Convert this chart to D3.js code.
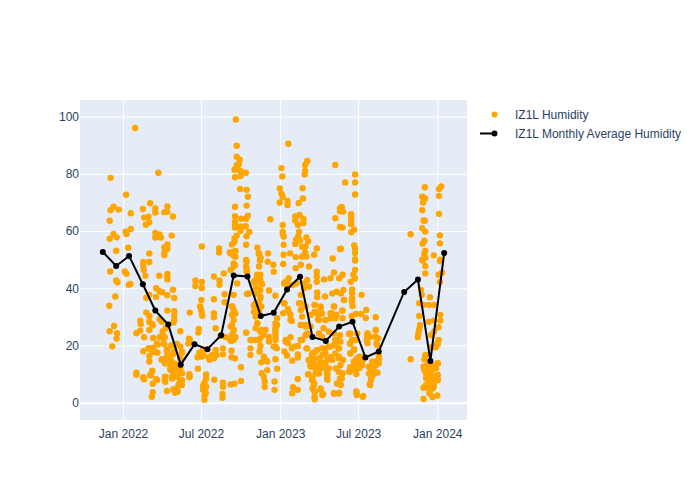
<!DOCTYPE html>
<html><head><meta charset="utf-8">
<script src="https://cdn.jsdelivr.net/npm/d3@7"></script>
<style>html,body{margin:0;padding:0;background:#fff}svg{display:block}text{font-family:"Liberation Sans",Arial,sans-serif}</style>
</head><body><svg id="c" width="700" height="500"></svg>
<script>
const baseDate = new Date(2022,0,1);
const seriesNames = ["IZ1L Humidity","IZ1L Monthly Average Humidity"];
const xTickDates = ["2022-01-01","2022-07-01","2023-01-01","2023-07-01","2024-01-01"];
const xTickLabels = ["Jan 2022","Jul 2022","Jan 2023","Jul 2023","Jan 2024"];
const yTicks = [0,20,40,60,80,100];
const monthlyDays = [-47,-16,14,46,75,105,134,166,196,228,257,289,320,350,381,411,440,471,502,533,563,594,653,685,714,746];
const monthlyHumidity = [52.7,47.8,51.3,41.4,32.2,27.3,13.3,20.4,18.7,23.6,44.5,44.1,30.3,31.4,39.6,44,23,21.6,26.6,28.3,15.8,17.9,38.7,43.1,14.6,52.3];
// [days after 1 Jan 2022, humidity %]
const humidityReadings = [
[28,96],[-29,78.6],[82,80.4],[7,72.7],[-22,68.5],[-29,67.3],[-10,67.5],[18,66.2],[-31,63.6],[46,67.7],[63,69.7],[75,67.9],[75,66.5],[103,68.6],[96,66.6],[103,66.7],[116,65.1],[49,64.7],[59,65],[61,63.1],[53,62.2],[18,60.7],[6,59.8],[8,59],[-22,59],[-31,57.3],[-15,57.8],[75,59.3],[85,58.8],[75,57.7],[88,57.7],[82,58.1],[113,58.4],[12,54.2],[-16,53.1],[61,52.2],[103,55.3],[96,54.3],[103,53.8],[96,52.4],[96,51.6],[183,54.6],
[47,49.2],[61,49.2],[47,47.8],[48,46.4],[52,44.4],[-30,45.9],[4,45.9],[8,45.1],[-16,42.7],[-13,42.1],[13,41.2],[17,41.5],[84,44.4],[103,45],[103,44],[103,43.1],[168,42.7],[168,40.8],[183,42.2],[183,40.1],[77,40],[85,39],[91,38.6],[116,39.5],[103,37.6],[77,37],[54,36.7],[61,37.7],[119,36.6],[-18,37.1],[-32,33.9],[182,35.9],[179,33.6],[181,32.7],[183,31.5],[184,30.4],[54,31.5],[61,30.3],[103,32.2],[119,32],[119,30.3],[119,28.9],[117,28],[155,31.5],[40,28.7],[41,27.5],[61,28.3],[67,27.5],[85,29.2],[90,28.3],[69,27],[61,25.4],[-21,26.8],[-31,25],[-14,24.3],[-15,22.4],[-25,19.7],[40,25.2],[31,24.3],[49,22.9],[70,22.6],[85,22.9],[92,24.9],[99,26],[97,22.9],[133,25],[176,25.8],[175,24.5],[153,22.4],[153,21.1],[80,20.3],[96,20.4],[112,20],[125,20.5],[133,19.6],[102,18.2],[61,19],[69,19.1],[47,18],[80,17.5],[68,17.7],[61,16.3],[103,16.7],[116,17],[137,17.5],[96,15.2],[90,15.2],[110,15.2],[61,14.4],[133,15.5],[177,17.5],[186,18.4],[173,15.9],[183,16.1],[199,15.9],[201,15],[110,13.6],[117,12.6],[125,13.2],[133,12],[110,11.5],[117,10.3],[127,10.9],[137,10.3],[113,9.1],[125,9.1],[133,8],[174,11.9],[154,10],[154,8.9],[68,11.2],[64,9.6],[31,10.5],[31,9.8],[47,8.9],[49,8.2],[77,8.2],[69,6.6],[97,8.9],[97,7.7],[193,9.9],[193,8.5],[189,7],[186,5.9],[193,5.6],[186,4.5],[192,3.5],[189,2.4],[189,1],[130,6.6],[137,6.2],[125,5],[117,4.7],[127,3.9],[121,3.5],[102,4.1],[69,3.7],[67,2.1],
[94,22.5],[87,23],[79,20.7],[94,20.7],[67,19],[59,19],[75,17.8],[90,14.9],[98,13.7],[110,16],[118,13.7],[121,11.4],[110,12],[125,9.6],[114,8.5],[137,7.9],[129,6.1],[118,4.4],[124,3.8],[137,17.8],[118,17.8],[102,18.4],[102,16],[98,9.1],[98,7.3],[79,7.9],[67,10.8],[63,9.6],[48,8.5],[155,9.3],[155,22.1],[152,20.7],[180,16.6],[187,16.6],[189,5.6],[191,3.2],
[262,99],[264,89.8],[384,90.5],[264,86],[271,84.9],[269,83.5],[264,83],[259,81.4],[267,81.7],[273,80.9],[285,80.4],[260,78.8],[273,79.2],[223,53.9],[223,52.5],[368,82],[370,79.1],[428,84.5],[423,83.1],[423,81],[422,79.8],[493,83.1],[272,74.7],[287,74.4],[290,72],[260,68.5],[287,68.9],[364,74.9],[368,73],[371,71.9],[364,70],[382,70.5],[382,69.1],[408,69.8],[418,71.4],[417,75],[260,65.2],[274,64.3],[286,64.3],[290,65.4],[342,64.1],[260,63.2],[260,62.1],[260,61.2],[273,61.6],[285,61.7],[273,60.1],[293,59.7],[287,58.2],[264,58.4],[259,57.4],[259,56.3],[253,55.3],[286,55.2],[400,65.1],[400,63.7],[410,65.6],[419,64.2],[419,62.8],[406,62.2],[409,59.8],[371,62.1],[371,59.8],[371,59],[373,58.1],[493,64.5],[504,68],[504,66.9],[504,61.4],[407,58.1],[402,57],[411,56.7],[400,55.5],[426,57.8],[430,56.4],[416,54.5],[424,54.6],[450,53.9],[504,53.7],[373,55.2],[312,54.2],[248,52.5],[261,53],[257,51.4],[315,52.1],[319,50.8],[337,52.2],[373,51.7],[388,52.2],[401,50.9],[416,51.1],[423,52.5],[426,51.1],[444,51.7],[487,50.4],
[257,48.7],[257,47.6],[211,44.1],[234,45.2],[224,42.7],[224,41.2],[250,46.4],[287,49.3],[287,47],[287,45.8],[318,49.7],[336,49.3],[349,48.2],[372,48.5],[350,45.8],[312,44.7],[319,44.7],[308,42.9],[265,41.7],[323,41.5],[308,41.2],[315,39.6],[339,39.2],[308,38.2],[288,38],[236,37.9],[257,37.7],[354,37.4],[211,36.2],[236,35.1],[413,48.2],[401,47],[432,47.6],[450,45.8],[450,44.1],[450,42.3],[490,45.5],[467,43.1],[482,43.5],[502,43.5],[385,43.5],[374,41.7],[389,41.2],[403,41.7],[428,42.9],[432,40.6],[420,40],[413,37.7],[451,38.5],[451,36.9],[469,37.1],[486,38.2],[496,38.8],[409,34.8],[413,32.4],[416,30.1],[375,34.8],[383,32.7],[372,31.3],[389,30.7],[392,28.6],[445,34.2],[459,33.6],[445,31.8],[459,31.3],[490,33.6],[482,31.3],[471,28.9],[453,29.2],[436,30.7],[496,30.7],[308,34.8],[308,32.4],[308,30.1],[312,27.8],[319,37.1],[321,33.6],[358,29.5],[358,27.2],[253,33.6],[257,32.4],[253,30.7],[257,28.9],[253,27.2],[257,25.4],[253,23.7],[257,21.9],[251,21.6],[211,31.3],[211,29.9],[215,26],[226,23.3],[286,24.5],[308,26],[319,24.9],[331,25.4],[327,23.7],[339,21.4],[296,21.9],[308,21.9],[319,22.5],[354,26],[354,24.3],[354,21.9],[319,19.8],[354,19.6],[357,19],[413,27.2],[424,26.6],[436,26.6],[428,24],[389,22.9],[378,21.9],[383,20.8],[413,21.9],[406,19.8],[392,19],[428,19],[375,17.9],[381,16.5],[406,16.9],[406,15.8],[393,14.7],[232,19],[232,16.9],[252,18.2],[252,15.9],[260,15.5],[215,18.4],[207,16.7],[217,16.7],[211,15.5],[296,19],[317,17.9],[296,16.7],[327,16.1],[331,14.9],[321,14.1],[335,14.4],[354,15.2],[274,12.4],[335,11.4],[358,11.9],[322,10.3],[327,9.1],[329,7.4],[329,5.6],[352,7.4],[352,4.5],[212,8],[274,7.6],[232,7],[232,5.6],[250,6.4],[259,6.6],[231,3.1],[231,1.7],[406,8.3],[395,5.4],[393,3.3],[406,4.5],[430,9.9],[440,17.3],[451,18.4],[463,16.7],[471,19],[482,19.6],[494,20.8],[502,19],[436,15],[444,15.5],[436,12.6],[447,12],[463,13.8],[475,15],[486,15],[502,16.1],[494,12],[471,12],[475,9.7],[475,8],[440,8.6],[444,6.8],[440,5],[445,3.9],[445,1.2],[459,4.5],[463,2.7],[490,3.3],[502,3.5],
[257,52.8],[250,52.2],[261,51],[260,48.1],[286,49.9],[286,47.6],[288,45.8],[316,52.2],[319,50.5],[316,47.6],[312,44.6],[319,42.9],[304,42.3],[308,39.4],[319,39.4],[292,38.2],[319,36.5],[316,34.7],[304,34.1],[304,31.8],[316,31.8],[312,27.7],[322,25.4],[300,21.9],[316,21.9],[339,23],[354,27.7],[354,25.4],[354,23],[350,19.6],[393,41.1],[378,42.3],[382,41.1],[374,34.7],[385,31.8],[389,28.9],[413,34.7],[424,33.6],[420,41.7],[413,27.1],[428,27.1],[424,23.6],[413,21.9],[397,19.6],[378,21.3],[254,33.6],[254,30.7],[261,31.2],[250,26.6],[257,25.4],[246,22.5],[238,23],[261,23],[286,24.5],
[431,14.9],[439,16.6],[447,17.8],[443,13.7],[455,15.5],[462,19],[470,17.2],[478,19.6],[490,20.1],[497,21.9],[501,19],[493,17.2],[482,16],[470,13.7],[459,12],[451,13.1],[435,13.1],[478,12],[474,10.2],[474,8.5],[501,15.5],[505,13.1],[501,10.8],[504,8.5],[497,6.7],[459,14.3],[447,10.2],[455,10.2],[431,10],[439,7.9],[443,6.1],[459,5],[445,3.8],[445,2.1],[465,3],[490,3.2],[501,3.2],[542,3.5],[557,2.1],[544,15.5],[552,16],[536,14.3],[548,13.1],[528,12],[527,10.8],[540,11.4],[571,12.6],[579,14.3],[587,13.1],[594,16.6],[571,10.2],[577,8.8],[573,6.5],[579,11.4],[566,21.9],[567,23.6],[587,25.4],[587,23],[589,20.7],[527,20.7],[536,18.4],[528,17.2],[528,24.2],[544,24.2],[445,34.2],[459,33],[451,31.2],[462,31.2],[486,31.2],[483,29.5],[493,29.5],[470,28.9],[455,28.9],[424,27.2],[428,24.2],[416,21.9],[426,19],[466,26],[455,24.2],[478,24.8],[462,23],[490,24.2],[504,23.6],[505,21.3],[493,21.9],[513,35.9],[509,32.2],[490,33.6],
[539,79.8],[516,77],[539,77],[539,72.8],[508,68.4],[511,66.8],[530,65.9],[530,64.9],[530,63.7],[530,62.4],[510,61.2],[537,60.5],[530,59.6],[537,55],[539,53.8],[539,52.3],[539,50.2],[506,53.8],[701,75.3],[739,75.6],[734,74.7],[734,72.3],[695,72],[698,71.3],[702,71.4],[697,70],[695,67.3],[734,66],[698,63.7],[701,63.6],[695,61],[702,59.8],[668,58.9],[736,58.5],[736,55.7],[700,56.6],[696,55.6],[702,53],[700,52.1],[722,51.5],[702,50.7],[695,50],[737,50],
[539,49.7],[696,49.7],[736,49.5],[702,47.8],[702,45.2],[539,46.4],[535,44.7],[529,42.3],[539,43.5],[510,44.7],[733,44.7],[741,45.5],[736,42.2],[512,39.4],[506,38.2],[532,39.6],[532,38.3],[532,36.5],[554,37.7],[514,35.9],[532,35.3],[533,33.8],[510,32.2],[565,32.4],[553,31],[541,31],[531,30.3],[564,29.6],[587,29.9],[510,29.5],[692,39.4],[694,37.7],[688,34.8],[698,34.2],[713,36.9],[710,34.2],[722,34.2],[688,30.3],[737,30.7],[710,28.3],[722,28.7],[737,28.7],[690,27.2],[688,25.7],[686,24.3],[685,22.9],[733,26.4],[723,24.9],[716,23.7],[733,21.9],[731,20.5],[716,19.4],[726,19.4],[704,16.7],[700,15.2],[668,15.2],[525,24],[532,21.9],[541,21.9],[528,20.6],[537,18.7],[528,17.3],[511,14.9],[568,24.3],[568,22.5],[574,23.1],[568,20.8],[587,25.2],[587,22.9],[593,22.5],[590,20.2],[549,16.1],[541,14.9],[556,14.9],[549,13.8],[556,13.2],[537,12.4],[528,12.4],[525,10.9],[549,12],[542,10],[580,13.2],[587,14.4],[595,15.5],[594,13.8],[574,12.4],[584,10.9],[591,10.5],[580,9.7],[576,8],[574,6.2],[510,10.3],[508,8.5],[506,6.2],[542,3.9],[543,2.7],[558,2.4],[700,12.6],[708,13.2],[731,13.8],[700,11.4],[727,12],[709,10],[731,9.7],[716,9.1],[704,8.6],[731,8],[709,7.4],[722,6.8],[704,6.2],[714,5.6],[698,5.2],[719,5],[712,3.5],[730,2.5],[719,2],[698,1.3],
[698,12.6],[708,12],[723,12.6],[731,13.7],[704,10.2],[716,10.8],[730,9.6],[708,7.9],[719,8.5],[700,5.3],[712,5],[722,5.6],[708,13.2],[702,16.6],[730,20.7],[716,23.6],[716,13.2],[731,7.9],[712,3.2]
];

const toDate = d => d3.timeDay.offset(baseDate, d);
const parse = d3.timeParse("%Y-%m-%d");
const svg = d3.select("#c");
const L=80,R=467,T=100,B=420;
const spanDays = (parse("2024-01-01")-parse("2022-01-01"))/864e5;
const dayPx = (437-123)/spanDays;
const x = d3.scaleTime().domain([toDate((L-123)/dayPx),toDate((R-123)/dayPx)]).range([L,R]);
const y = d3.scaleLinear().domain([(402.7-420)/2.861,(402.7-100)/2.861]).range([B,T]);

svg.append("rect").attr("x",L).attr("y",T).attr("width",R-L).attr("height",B-T).attr("fill","#e5ecf6");

const xAxis = d3.axisBottom(x).tickValues(xTickDates.map(parse)).tickFormat((d,i)=>xTickLabels[i]).tickSize(-(B-T)).tickPadding(9);
const yAxis = d3.axisLeft(y).tickValues(yTicks).tickSize(-(R-L)).tickPadding(1);
const gx = svg.append("g").attr("transform",`translate(0,${B})`).call(xAxis);
const gy = svg.append("g").attr("transform",`translate(${L},0)`).call(yAxis);
[gx,gy].forEach(g=>{
  g.select(".domain").remove();
  g.selectAll("line").attr("stroke","#fff").attr("stroke-width",1);
  g.selectAll("text").attr("fill","#2a3f5f").style("font-size","12px");
});
gy.selectAll(".tick").filter(d=>d===0).select("line").attr("stroke-width",2);

const marks = svg.append("g");
marks.selectAll("circle.p").data(humidityReadings).join("circle").attr("class","p")
  .attr("cx",d=>x(toDate(d[0]))).attr("cy",d=>y(d[1])).attr("r",3.2).attr("fill","#ffa500");

const line = d3.line().x((d,i)=>x(toDate(monthlyDays[i]))).y(d=>y(d));
marks.append("path").datum(monthlyHumidity).attr("d",line).attr("fill","none").attr("stroke","#000").attr("stroke-width",2);
marks.selectAll("circle.m").data(monthlyHumidity).join("circle").attr("class","m")
  .attr("cx",(d,i)=>x(toDate(monthlyDays[i]))).attr("cy",d=>y(d)).attr("r",3).attr("fill","#000");

const leg = svg.append("g");
leg.append("circle").attr("cx",494.5).attr("cy",114.5).attr("r",3).attr("fill","#ffa500");
leg.append("line").attr("x1",480).attr("x2",497).attr("y1",133.5).attr("y2",133.5).attr("stroke","#000").attr("stroke-width",2);
leg.append("circle").attr("cx",494.5).attr("cy",133.5).attr("r",3).attr("fill","#000");
leg.selectAll("text").data(seriesNames).join("text").attr("x",515).attr("y",(d,i)=>119+i*19)
  .attr("fill","#2a3f5f").style("font-size","12px").text(d=>d);
</script></body></html>
